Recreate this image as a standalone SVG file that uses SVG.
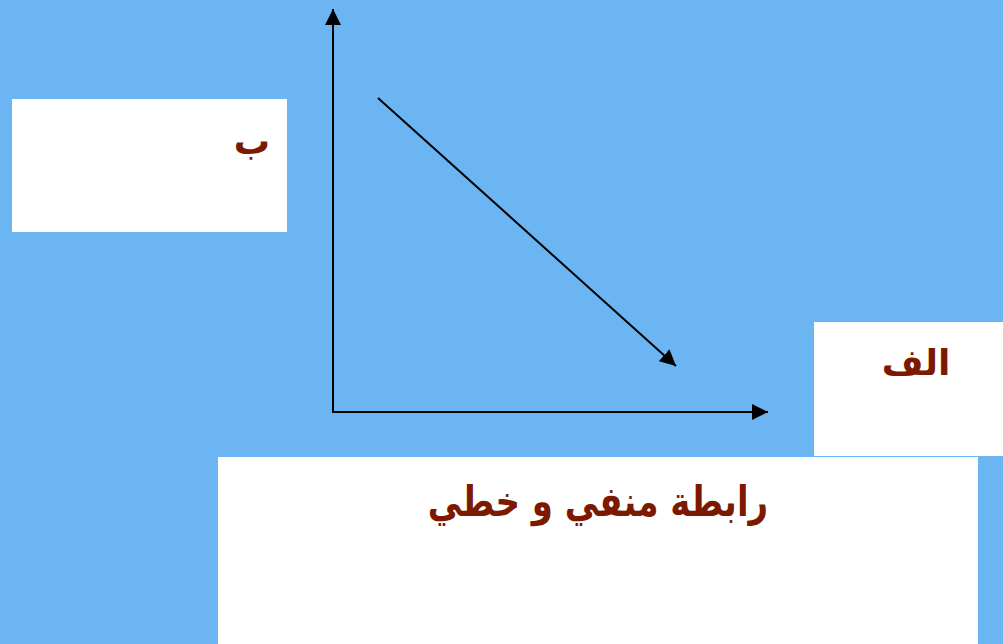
<svg xmlns="http://www.w3.org/2000/svg" width="1003" height="644" viewBox="0 0 1003 644">
<style>
.box{fill:#ffffff}
.lbl{font-family:"DejaVu Sans","Liberation Sans",sans-serif;font-weight:bold;fill:#7B1A00;text-anchor:middle}
.ln{stroke:#000;stroke-width:2;fill:none}
</style>
<defs>
<marker id="ahb" viewBox="0 0 10 10" refX="10" refY="5" markerWidth="16" markerHeight="16" markerUnits="userSpaceOnUse" orient="auto">
<path d="M0,0 L10,5 L0,10 z" fill="#000"/>
</marker>
</defs>
<rect width="1003" height="644" fill="#6AB5F2"/>
<g id="node-b"><rect class="box" x="12" y="99" width="275" height="133"/><text class="lbl" x="252" y="154" font-size="38" direction="rtl" transform="translate(252,0) scale(0.95,1) translate(-252,0)">ب</text></g>
<g id="node-alef"><rect class="box" x="814" y="322" width="189" height="134"/><text class="lbl" x="916" y="375" font-size="36" direction="rtl">الف</text></g>
<g id="node-caption"><rect class="box" x="218" y="457" width="760" height="187"/><text class="lbl" x="598" y="516" font-size="42" direction="rtl" transform="translate(598,0) scale(0.81,1) translate(-598,0)">رابطة منفي و خطي</text></g>
<g id="connectors">
<line class="ln" x1="333" y1="412" x2="333" y2="9" marker-end="url(#ahb)"/>
<line class="ln" x1="332" y1="412" x2="768" y2="412" marker-end="url(#ahb)"/>
<line class="ln" x1="378" y1="98" x2="676" y2="366" marker-end="url(#ahb)"/>
</g>
</svg>
